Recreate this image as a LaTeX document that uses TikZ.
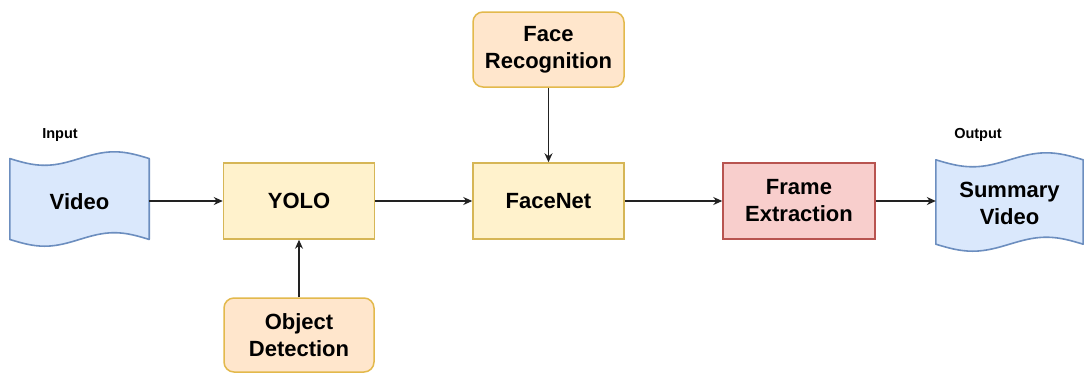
\documentclass[tikz,border=0pt]{standalone}
\usepackage{fontspec}
\setmainfont{Liberation Sans}
\usetikzlibrary{arrows.meta,calc}
\definecolor{yfill}{HTML}{FFF2CC}
\definecolor{ydraw}{HTML}{D6B656}
\definecolor{ofill}{HTML}{FFE6CC}
\definecolor{odraw}{HTML}{D79B00}
\definecolor{rfill}{HTML}{F8CECC}
\definecolor{rdraw}{HTML}{B85450}
\definecolor{bfill}{HTML}{DAE8FC}
\definecolor{bdraw}{HTML}{6C8EBF}
\definecolor{linec}{HTML}{222222}
\tikzset{
  lbl/.style={font=\fontsize{22}{27}\selectfont\bfseries, align=center, text=black},
  box/.style={lbl, rectangle, line width=1.5pt, inner sep=0pt},
  ybox/.style={box, draw=ydraw, fill=yfill},
  obox/.style={box, draw=odraw!70, fill=ofill, rounded corners=10pt},
  rbox/.style={box, draw=rdraw, fill=rfill},
  tapebox/.style={lbl, rectangle, inner sep=0pt},
  tapeline/.style={draw=bdraw, fill=bfill, line width=1.6pt, line join=round},
  arr/.style={draw=linec, line width=1.2pt, -{Stealth[length=9pt,width=8pt]}},
  small/.style={font=\fontsize{14.5}{16}\selectfont\bfseries, text=black}
}
\newcommand\tapeshape[2]{%
  \path[tapeline] let \p1=(#1.north west), \p2=(#1.south east) in
    (\x1,{\y1-#2/2}) sin ({\x1+(\x2-\x1)/4},{\y1-#2}) cos ({\x1+(\x2-\x1)/2},{\y1-#2/2})
    sin ({\x1+3*(\x2-\x1)/4},\y1) cos (\x2,{\y1-#2/2})
    -- (\x2,{\y2+#2/2}) sin ({\x1+3*(\x2-\x1)/4},{\y2+#2}) cos ({\x1+(\x2-\x1)/2},{\y2+#2/2})
    sin ({\x1+(\x2-\x1)/4},\y2) cos (\x1,{\y2+#2/2}) -- cycle;}
\begin{document}
\begin{tikzpicture}[x=1pt,y=-1pt]
\useasboundingbox[fill=white] (0,0) rectangle (1084,373);
% tapes (invisible anchor nodes)
\node[tapebox, minimum width=139pt, minimum height=94pt] (video) at (79.5,199) {};
\node[tapebox, minimum width=147pt, minimum height=98pt] (summary) at (1009.5,202) {};
\tapeshape{video}{13.5pt}
\tapeshape{summary}{14pt}
\node[lbl] (videotxt) at ([yshift=-3pt]video.center) {Video};
\node[lbl] (summarytxt) at ([yshift=-1pt]summary.center) {Summary\\Video};
% boxes
\node[ybox, minimum width=151pt, minimum height=76pt] (yolo) at (299,201) {YOLO};
\node[ybox, minimum width=151pt, minimum height=76pt] (facenet) at (548.5,201) {FaceNet};
\node[obox, minimum width=151pt, minimum height=75pt] (facerec) at (548.5,49.5) {Face\\Recognition};
\node[rbox, minimum width=152pt, minimum height=76pt] (frame) at (799,201) {Frame\\Extraction};
\node[obox, minimum width=150pt, minimum height=74pt] (objdet) at (299,335) {Object\\Detection};
% labels
\node[small] (inlbl) at (60,135) {Input};
\node[small] (outlbl) at (978,135) {Output};
% connectors
\draw[arr] (video.east |- yolo) -- (yolo);
\draw[arr] (yolo) -- (facenet);
\draw[arr] (facenet) -- (frame);
\draw[arr] (frame) -- (summary.west |- frame);
\draw[arr] (facerec) -- (facenet);
\draw[arr] (objdet) -- (yolo);
\end{tikzpicture}
\end{document}
